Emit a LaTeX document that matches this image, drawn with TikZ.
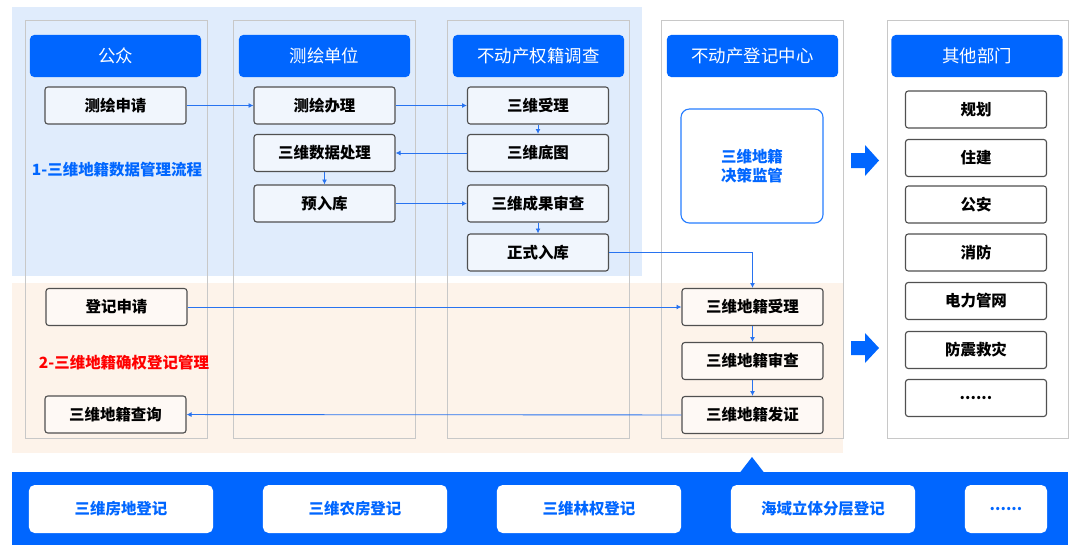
\documentclass[tikz,border=0pt]{standalone}
\usepackage{fontspec}
\setmainfont{Noto Sans CJK SC}
\usetikzlibrary{arrows.meta}
\definecolor{hdblue}{RGB}{0,102,255}
\definecolor{lnblue}{RGB}{40,115,240}
\definecolor{bgblue}{RGB}{224,236,252}
\definecolor{bgorange}{RGB}{253,243,234}
\definecolor{lanegray}{RGB}{200,200,200}
\definecolor{boxgray}{RGB}{80,80,80}

\begin{document}
\begin{tikzpicture}[x=0.025cm, y=-0.025cm,
    header/.style={fill=hdblue, rounded corners=3pt, text=white, inner sep=0pt,
        minimum width=4.275cm, minimum height=1.05cm, font=\fontsize{12.4}{14}\selectfont},
    stepbox/.style={draw=boxgray, line width=0.8pt, rounded corners=2pt, fill=white,
        fill opacity=0.55, text opacity=1, inner sep=0pt,
        minimum width=3.525cm, minimum height=0.925cm, font=\fontsize{11}{13}\selectfont\bfseries},
    regbox/.style={fill=white, rounded corners=4pt, text=hdblue, inner sep=0pt,
        minimum width=4.6cm, minimum height=1.2cm, font=\fontsize{11}{13}\selectfont\bfseries},
    lane/.style={draw=lanegray, line width=0.7pt},
    flow/.style={draw=lnblue, line width=0.6pt, -{Latex[length=3.5pt,width=3.5pt]}},
]
    \useasboundingbox (0,0) rectangle (1080,554);

    % Background bands
    \fill[bgblue] (12,7) rectangle (642,276);
    \fill[bgorange] (12,283) rectangle (843,453);

    % Lanes
    \draw[lane] (25,20) rectangle (207,438);
    \draw[lane] (233,20) rectangle (415,438);
    \draw[lane] (447,20) rectangle (629,438);
    \draw[lane] (661,20) rectangle (843,438);
    \draw[lane] (887,20) rectangle (1068,438);

    % Lane headers
    \node[header] (gz) at (115.5,56) {公众};
    \node[header] (chdw) at (324.5,56) {测绘单位};
    \node[header] (qjdc) at (538.5,56) {不动产权籍调查};
    \node[header] (djzx) at (752.5,56) {不动产登记中心};
    \node[header] (qtbm) at (977,56) {其他部门};

    % Flow 1
    \node[stepbox] (chsq) at (115.5,105.5) {测绘申请};
    \node[stepbox] (chbl) at (324.5,105.5) {测绘办理};
    \node[stepbox] (sjcl) at (324.5,153) {三维数据处理};
    \node[stepbox] (yrk) at (324.5,203.5) {预入库};
    \node[stepbox] (swsl) at (538,105.5) {三维受理};
    \node[stepbox] (swdt) at (538,153) {三维底图};
    \node[stepbox] (cgsc) at (538,203.5) {三维成果审查};
    \node[stepbox] (zsrk) at (538,252.5) {正式入库};
    \node[font=\fontsize{11}{13}\selectfont\bfseries, text=hdblue] (lab1) at (117,170) {1-三维地籍数据管理流程};

    % Flow 2
    \node[stepbox] (djsq) at (116.5,307) {登记申请};
    \node[stepbox] (djcx) at (115.5,414.5) {三维地籍查询};
    \node[stepbox] (djsl) at (752.5,307) {三维地籍受理};
    \node[stepbox] (djsc) at (752.5,361) {三维地籍审查};
    \node[stepbox] (djfz) at (752.5,415) {三维地籍发证};
    \node[font=\fontsize{11}{13}\selectfont\bfseries, text=red] (lab2) at (124,363) {2-三维地籍确权登记管理};

    % Decision box
    \node[draw=hdblue!85, line width=0.8pt, rounded corners=6pt, fill=white, text=hdblue,
        minimum width=3.55cm, minimum height=2.85cm, align=center,
        font=\fontsize{11}{14}\selectfont\bfseries] (jcjg) at (752,166) {三维地籍\\决策监管};

    % Other departments
    \node[stepbox] (gh) at (976,109.5) {规划};
    \node[stepbox] (zj) at (976,158) {住建};
    \node[stepbox] (ga) at (976,204.5) {公安};
    \node[stepbox] (xf) at (976,252.5) {消防};
    \node[stepbox] (dlgw) at (976,301) {电力管网};
    \node[stepbox] (fzjz) at (976,350) {防震救灾};
    \node[stepbox] (qt) at (976,398) {......};

    % Block arrows
    \fill[hdblue] (851,153) -- (865,153) -- (865,145) -- (879,160.5) -- (865,176) -- (865,168) -- (851,168) -- cycle;
    \fill[hdblue] (851,341) -- (865,341) -- (865,333) -- (879,348) -- (865,363) -- (865,355) -- (851,355) -- cycle;

    % Connectors
    \draw[flow] (chsq) -- (chbl);
    \draw[flow] (chbl) -- (swsl);
    \draw[flow] (swsl) -- (swdt);
    \draw[flow] (swdt) -- (sjcl);
    \draw[flow] (sjcl) -- (yrk);
    \draw[flow] (yrk) -- (cgsc);
    \draw[flow] (cgsc) -- (zsrk);
    \draw[flow] (zsrk.east) -| (djsl.north);
    \draw[flow] (djsq) -- (djsl);
    \draw[flow] (djsl) -- (djsc);
    \draw[flow] (djsc) -- (djfz);
    \draw[flow] (djfz) -- (djcx);

    % Registration bar
    \fill[hdblue] (12,472) rectangle (1068,545);
    \fill[hdblue] (740,472.5) -- (752,457) -- (764,472.5) -- cycle;
    \node[regbox] (fddj) at (121,509) {三维房地登记};
    \node[regbox] (nfdj) at (355,509) {三维农房登记};
    \node[regbox] (lqdj) at (589,509) {三维林权登记};
    \node[regbox] (hydj) at (823,509) {海域立体分层登记};
    \node[regbox, minimum width=2.05cm] (qtdj) at (1006,509) {......};
\end{tikzpicture}
\end{document}
